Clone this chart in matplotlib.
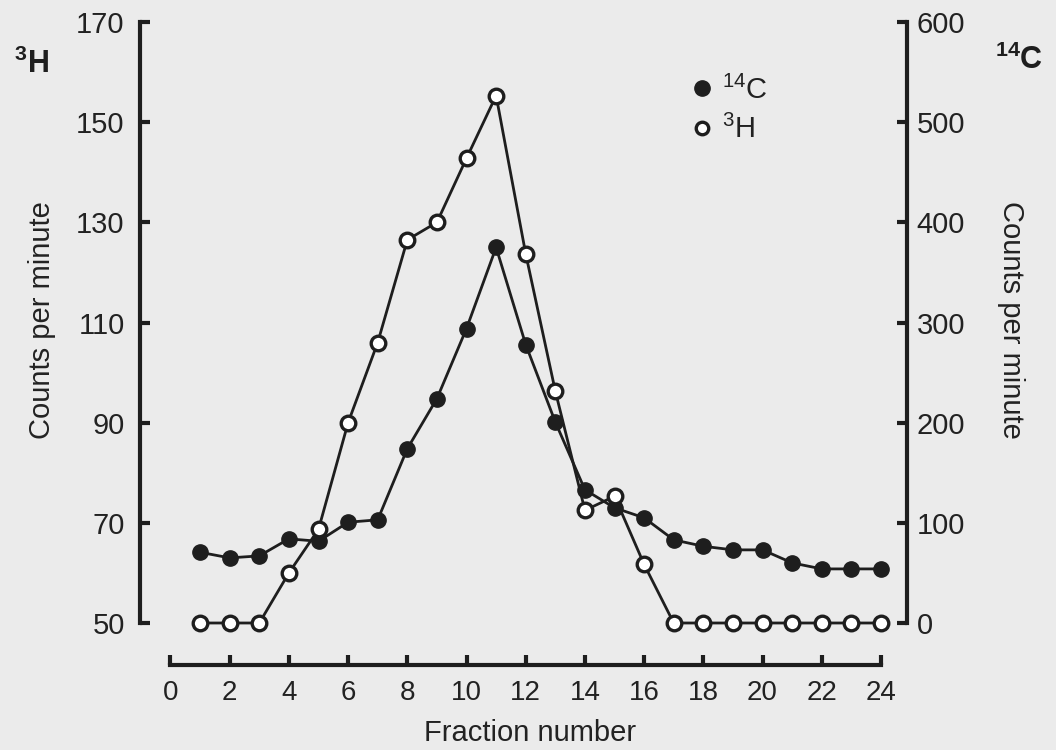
import matplotlib
matplotlib.use("Agg")
from matplotlib import pyplot as plt
from matplotlib.lines import Line2D

plt.rcParams['font.family'] = ['Liberation Sans', 'DejaVu Sans']
plt.rcParams['mathtext.fontset'] = 'custom'
plt.rcParams['mathtext.rm'] = 'Liberation Sans'
plt.rcParams['mathtext.it'] = 'Liberation Sans:italic'
plt.rcParams['mathtext.bf'] = 'Liberation Sans:bold'

# fraction number vs counts per minute
fraction = list(range(1, 25))
h3_cpm = [50, 50, 50, 60, 68.7, 90, 106, 126.5, 130, 142.8, 155.3, 123.7,
          96.3, 72.5, 75.3, 61.7, 50, 50, 50, 50, 50, 50, 50, 50]
c14_cpm = [70.6, 65, 67, 84, 81.6, 100.6, 103, 174, 224, 294, 375, 278,
           200.6, 133, 115, 105, 83, 76.6, 73, 73, 60, 54, 54, 54]

h3_ticks = [50, 70, 90, 110, 130, 150, 170]
c14_ticks = [0, 100, 200, 300, 400, 500, 600]
x_ticks = list(range(0, 25, 2))

ink = "#1e1e1e"
txt = "#222222"
bg = "#ebebeb"

fig = plt.figure(figsize=(10.56, 7.5), dpi=100, facecolor=bg)
ax = fig.add_axes([140/1056, 127/750, 767/1056, 601/750])
ax2 = ax.twinx()

ax.set_zorder(ax2.get_zorder() + 1)
ax.patch.set_visible(False)
ax2.patch.set_visible(False)

ax2.plot(fraction, c14_cpm, color=ink, lw=2, marker='o', ms=11,
         mfc=ink, mec=ink, clip_on=False)
ax.plot(fraction, h3_cpm, color=ink, lw=2, marker='o', ms=10.5,
        mfc='white', mec=ink, mew=2.4, clip_on=False)

ax.set_xlim(-1.03, 24.88)
ax.set_ylim(50, 170)
ax2.set_ylim(0, 600)

ax.set_xticks(x_ticks)
ax.set_yticks(h3_ticks)
ax2.set_yticks(c14_ticks)

for s in ['top', 'right']:
    ax.spines[s].set_visible(False)
for s in ['top', 'left', 'bottom']:
    ax2.spines[s].set_visible(False)
ax.spines['left'].set_linewidth(3)
ax.spines['bottom'].set_linewidth(3)
ax2.spines['right'].set_linewidth(3)
ax.spines['bottom'].set_position(('outward', 30))
ax.spines['bottom'].set_bounds(0, 24)
for sp in [ax.spines['left'], ax.spines['bottom'], ax2.spines['right']]:
    sp.set_color(ink)

ax.tick_params(axis='y', direction='in', length=7.5, width=3, color=ink,
               labelsize=21, pad=11, labelcolor=txt)
ax.tick_params(axis='x', direction='in', length=7.5, width=3, color=ink,
               labelsize=20, pad=11, labelcolor=txt)
ax2.tick_params(axis='y', direction='in', length=7.5, width=3, color=ink,
                labelsize=21, pad=7, labelcolor=txt)

fig.text(530/1056, 1 - 733/750, "Fraction number", fontsize=21,
         ha='center', va='center', color=txt)
fig.text(42/1056, 1 - 320/750, "Counts per minute", fontsize=21,
         rotation=90, ha='center', va='center', color=txt)
fig.text(1011/1056, 1 - 320/750, "Counts per minute", fontsize=21,
         rotation=270, ha='center', va='center', color=txt)
fig.text(14/1056, 1 - 64/750, r'$\mathbf{^{3}H}$', fontsize=22,
         ha='left', va='center', color=ink)
fig.text(995/1056, 1 - 60/750, r'$\mathbf{^{14}C}$', fontsize=22,
         ha='left', va='center', color=ink)

handles = [Line2D([], [], ls='none', marker='o', ms=11, mfc=ink, mec=ink),
           Line2D([], [], ls='none', marker='o', ms=9, mfc='white', mec=ink, mew=2.4)]
ax.legend(handles, [r'$^{14}$C', r'$^{3}$H'], loc='center',
          bbox_to_anchor=(0.77, 0.854), frameon=False, fontsize=21,
          handlelength=0.6, handletextpad=0.4, labelspacing=0.35,
          labelcolor=txt)

plt.savefig("out.png", dpi=100, facecolor=bg)
